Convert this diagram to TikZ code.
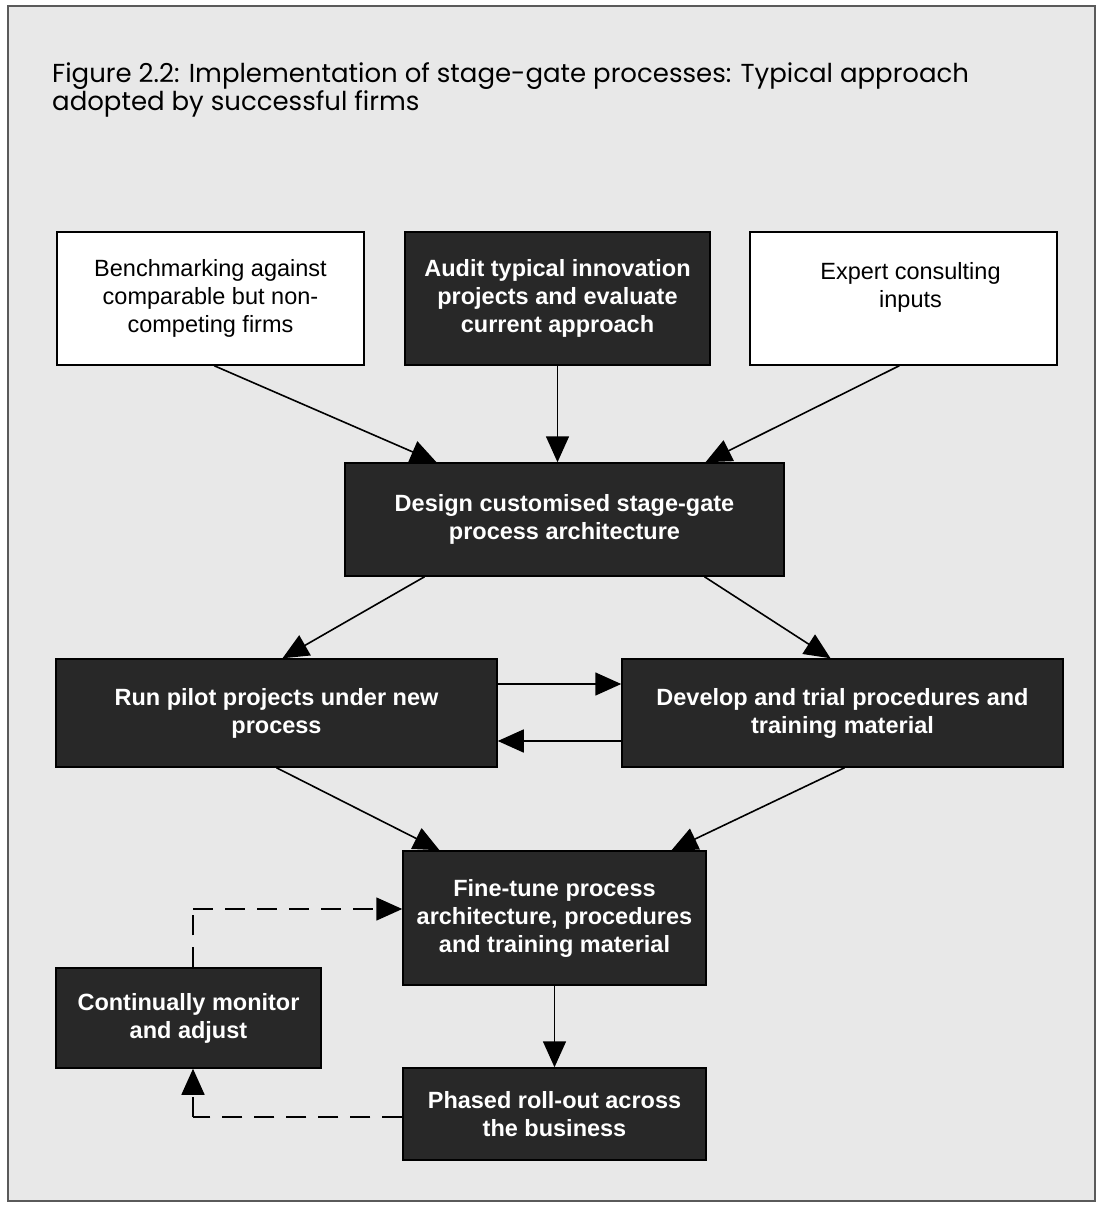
\documentclass[tikz,border=0pt]{standalone}
\usepackage{fontspec}
\setmainfont{Liberation Sans}
\newfontfamily\titlefont{Poppins}
\usetikzlibrary{arrows.meta}
\definecolor{bg}{RGB}{232,232,232}
\definecolor{darkbox}{RGB}{40,40,40}
\definecolor{framec}{RGB}{90,90,90}
\begin{document}
\begin{tikzpicture}[x=1pt,y=-1pt,
  box/.style={rectangle, draw=black, line width=1.5pt, align=center, inner sep=0pt,
    font=\fontsize{23.5}{28}\selectfont},
  lightbox/.style={box, fill=white, text=black},
  darkbx/.style={box, fill=darkbox, text=white, font=\fontsize{23.5}{28}\selectfont\bfseries},
  conn/.style={line width=1.6pt, -{Triangle[length=26pt,width=23pt]}},
  dconn/.style={conn, dash pattern=on 20pt off 12pt},
  dline/.style={line width=1.6pt, dash pattern=on 20pt off 12pt}
]
\useasboundingbox (0,0) rectangle (1099,1205);
\fill[white] (0,0) rectangle (1099,1205);
\draw[fill=bg, draw=framec, line width=2.5pt] (8,6) rectangle (1095,1201);

\node[anchor=base west, align=left, inner sep=0pt, font=\titlefont\fontsize{26}{28}\selectfont] (title) at (52,110)
  {Figure 2.2: Implementation of stage-gate processes: Typical approach\\adopted by successful firms};

\node[lightbox, minimum width=307pt, minimum height=133pt] (bench) at (210.5,298.5)
  {Benchmarking against\\comparable but non-\\competing firms};
\node[darkbx, minimum width=305pt, minimum height=133pt] (audit) at (557.5,298.5)
  {Audit typical innovation\\projects and evaluate\\current approach};
\node[lightbox, minimum width=307pt, minimum height=133pt] (expert) at (903.5,298.5)
  {\hspace*{14pt}Expert consulting\\\hspace*{14pt}inputs\\\mbox{}};
\node[darkbx, minimum width=439pt, minimum height=113pt] (design) at (564.5,519.5)
  {Design customised stage-gate\\process architecture};
\node[darkbx, minimum width=441pt, minimum height=108pt] (run) at (276.5,713)
  {Run pilot projects under new\\process};
\node[darkbx, minimum width=441pt, minimum height=108pt] (develop) at (842.5,713)
  {Develop and trial procedures and\\training material};
\node[darkbx, minimum width=303pt, minimum height=134pt] (fine) at (554.5,918)
  {Fine-tune process\\architecture, procedures\\and training material};
\node[darkbx, minimum width=265pt, minimum height=100pt] (monitor) at (188.5,1018)
  {Continually monitor\\and adjust};
\node[darkbx, minimum width=303pt, minimum height=92pt] (phased) at (554.5,1114)
  {Phased roll-out across\\the business};

\coordinate (c1) at (193,909);
\coordinate (c2) at (193,1117);

\draw[conn] (bench.south west) ++(158,0) -- ([xshift=-128pt]design.north);
\draw[conn] (audit.south) -- (audit.south |- design.north);
\draw[conn] (expert.south west) ++(150,0) -- ([xshift=141pt]design.north);
\draw[conn] ([xshift=-140pt]design.south) -- ([xshift=6pt]run.north);
\draw[conn] ([xshift=140pt]design.south) -- ([xshift=-12pt]develop.north);
\draw[conn] ([yshift=29pt]run.east) -- ([yshift=29pt]develop.west);
\draw[conn] ([yshift=-28pt]develop.west) -- ([yshift=-28pt]run.east);
\draw[conn] ([xshift=0pt]run.south) -- ([xshift=-115pt]fine.north);
\draw[conn] ([xshift=2pt]develop.south) -- ([xshift=117pt]fine.north);
\draw[conn] (fine.south) -- (phased.north);
\draw[dline] (monitor.north -| c1) -- (c1);
\draw[dconn] (c1) -- (c1 -| fine.west);
\draw[dline] (c2 -| phased.west) -- (c2);
\draw[dconn] (c2) -- (monitor.south -| c2);
\end{tikzpicture}
\end{document}
